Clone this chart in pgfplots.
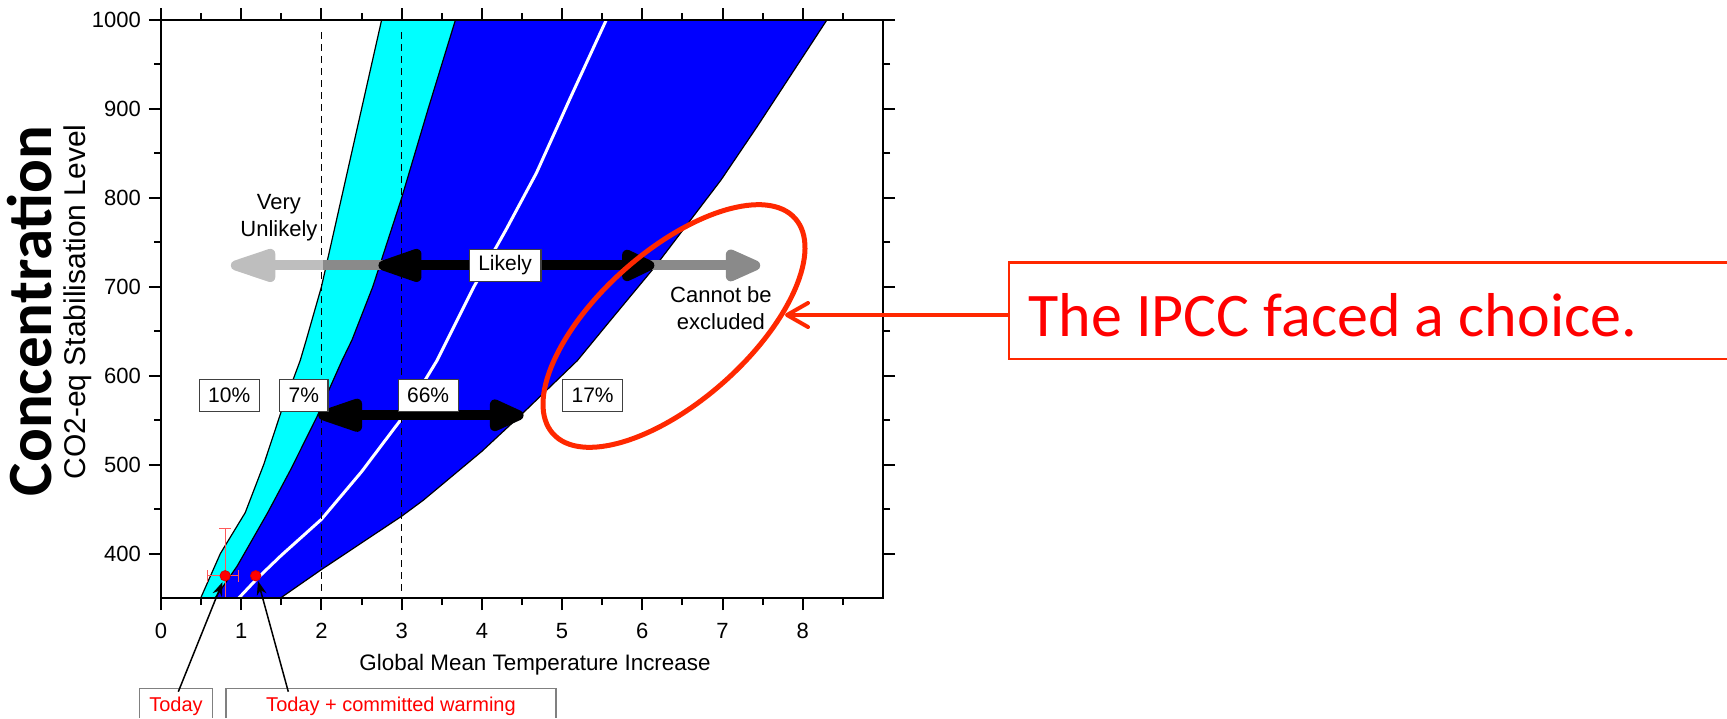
\documentclass[border=0pt]{standalone}
\usepackage{fontspec}
\setmainfont{Liberation Sans}
\newfontfamily\carlito{Carlito}
\usepackage{pgfplots}
\usepackage{pgfplotstable}
\pgfplotsset{compat=1.18}
\usetikzlibrary{arrows.meta}
\definecolor{ipccred}{RGB}{255,40,0}
\definecolor{lgrey}{RGB}{190,190,190}
\definecolor{mgrey}{RGB}{138,138,138}
\definecolor{errred}{RGB}{255,90,90}
\definecolor{pcyan}{RGB}{0,255,255}
\definecolor{pblue}{RGB}{0,0,255}
\definecolor{pred}{RGB}{255,0,0}

% lower edge of cyan band (10% line)
\pgfplotstableread{
x y
0.495 350
0.74 400
1.05 446
1.28 500
1.50 560
1.735 617
1.81 640
2.0 700
2.25 800
2.5 900
2.75 1000
}\edgeA
% cyan / blue boundary
\pgfplotstableread{
x y
0.674 350
0.95 386
1.33 446
1.62 495
1.95 555
2.256 617
2.38 640
2.64 700
3.0 800
3.33 900
3.67 1000
}\edgeB
% median (white)
\pgfplotstableread{
x y
0.97 350
1.2 372
1.5 398
2.0 438.5
2.5 492
3.0 551.8
3.44 617
3.9 700
4.3 764
4.68 828
5.1 912
5.55 1000
}\median
% right edge of blue band
\pgfplotstableread{
x y
1.49 350
2.0 382
3.0 442
3.27 460
4.0 515
4.5 557
5.19 617
5.6 662
6.17 724
6.98 820
7.43 880
8.30 1000
}\edgeD
% cyan band outline (edge A up, edge B down)
\pgfplotstableread{
x y
0.495 350
0.74 400
1.05 446
1.28 500
1.50 560
1.735 617
1.81 640
2.0 700
2.25 800
2.5 900
2.75 1000
3.67 1000
3.33 900
3.0 800
2.64 700
2.38 640
2.256 617
1.95 555
1.62 495
1.33 446
0.95 386
0.674 350
}\cyanband
% blue band outline (edge B up, edge D down)
\pgfplotstableread{
x y
0.674 350
0.95 386
1.33 446
1.62 495
1.95 555
2.256 617
2.38 640
2.64 700
3.0 800
3.33 900
3.67 1000
8.30 1000
7.43 880
6.98 820
6.17 724
5.6 662
5.19 617
4.5 557
4.0 515
3.27 460
3.0 442
2.0 382
1.49 350
}\blueband

\begin{document}
\begin{tikzpicture}
\tikzset{pctbox/.style={draw=black!75, fill=white, line width=0.6pt,
  font=\fontsize{10.5}{12}\selectfont, inner xsep=4.5pt, inner ysep=0pt,
  minimum height=16pt}}
\begin{axis}[
  at={(80.5pt,-299pt)}, anchor=south west,
  width=361pt, height=289pt, scale only axis,
  xmin=0, xmax=9, ymin=350, ymax=1000,
  xtick={0,...,8}, minor xtick={0.5,1.5,...,8.5},
  ytick={400,500,...,1000}, minor ytick={450,550,...,950},
  tick align=outside,
  major tick length=6pt, minor tick length=3.5pt,
  every tick/.append style={black, line width=1pt},
  axis line style={line width=1pt},
  tick label style={font=\fontsize{11}{13}\selectfont},
  xticklabel style={yshift=-3pt},
  yticklabel style={xshift=-0.5pt},
  /pgf/number format/assume math mode=true,
  /pgf/number format/1000 sep={},
  axis on top,
]
\addplot[fill=pcyan, draw=none] table {\cyanband};
\addplot[fill=pblue, draw=none] table {\blueband};
\addplot[black, line width=0.6pt] table {\edgeA};
\addplot[black, line width=0.6pt] table {\edgeB};
\addplot[black, line width=0.6pt] table {\edgeD};
\addplot[white, line width=1.5pt] table {\median};

\draw[black, line width=0.7pt, dash pattern=on 3.5pt off 2.5pt] (axis cs:2,358) -- (axis cs:2,990);
\draw[black, line width=0.7pt, dash pattern=on 3.5pt off 2.5pt] (axis cs:3,358) -- (axis cs:3,990);

% upper arrow row (Very unlikely / Likely / Cannot be excluded)
\draw[lgrey, line width=5pt, -{Triangle[length=28.5pt,width=17pt,round]}] (axis cs:2.03,724) -- (axis cs:0.87,724);
\draw[mgrey, line width=5pt] (axis cs:2.02,724) -- (axis cs:2.9,724);
\draw[mgrey, line width=5pt, -{Triangle[length=21.5pt,width=17pt,round]}] (axis cs:6.0,724) -- (axis cs:7.47,724);
\draw[black, line width=5pt, {Triangle[length=27.5pt,width=17pt,round]}-{Triangle[length=20pt,width=17pt,round]}] (axis cs:2.71,724) -- (axis cs:6.15,724);
% lower arrow (66%)
\draw[black, line width=5pt, {Triangle[length=28pt,width=17pt,round]}-{Triangle[length=21pt,width=17pt,round]}] (axis cs:1.96,555.5) -- (axis cs:4.52,555.5);

\node[pctbox] at (axis cs:4.29,724) {Likely};
\node[pctbox] at (axis cs:0.85,578) {10\%};
\node[pctbox] at (axis cs:1.78,578) {7\%};
\node[pctbox] at (axis cs:3.33,578) {66\%};
\node[pctbox] at (axis cs:5.38,578) {17\%};
\node[align=center, font=\fontsize{11}{13.3}\selectfont] at (axis cs:1.47,778) {Very\\Unlikely};
\node[align=center, font=\fontsize{11}{13.3}\selectfont] at (axis cs:6.98,676) {Cannot be\\excluded};

% today and today + committed warming
\addplot[only marks, mark=*, mark size=2.6pt, color=pred, mark options={fill=pred, draw=pred!85!black},
  error bars/.cd, x dir=both, x explicit, y dir=both, y explicit,
  error bar style={color=errred, line width=0.6pt},
  error mark options={rotate=90, mark size=3pt, color=errred, line width=0.6pt}]
  coordinates {(0.8,375) += (0.17,53) -= (0.22,30)};
\addplot[only marks, mark=*, mark size=2.6pt, color=pred, mark options={fill=pred, draw=pred!85!black}]
  coordinates {(1.18,375)};
\end{axis}

\begin{scope}[x=0.5pt, y=-0.5pt]
 \node[rotate=90, anchor=base, font=\carlito\bfseries\fontsize{31.5}{36}\selectfont] at (51,311) {Concentration};
 \node[rotate=90, anchor=base, font=\fontsize{15}{18}\selectfont] at (85,302) {CO2-eq Stabilisation Level};
 \node[anchor=base, font=\fontsize{11.2}{13}\selectfont] at (535,670) {Global Mean Temperature Increase};
 \draw[black!50, line width=0.7pt] (139.7,718) -- (139.7,688.3) -- (212.7,688.3) -- (212.7,718);
 \draw[black!50, line width=0.7pt] (226,718) -- (226,688.3) -- (556,688.3) -- (556,718);
 \node[anchor=base, text=pred, font=\fontsize{10}{12}\selectfont] at (176,711) {Today};
 \node[anchor=base, text=pred, font=\fontsize{10}{12}\selectfont] at (391,711) {Today + committed warming};
 \draw[black, line width=0.75pt, -{Stealth[length=7pt,width=5pt]}] (178.3,691.7) -- (222.5,582);
 \draw[black, line width=0.75pt, -{Stealth[length=7pt,width=5pt]}] (288.3,691.7) -- (258,581);
 \draw[ipccred, line width=1.2pt] (1727,262.5) -- (1009,262.5) -- (1009,359) -- (1727,359);
 \node[anchor=base west, inner sep=0pt, text=pred, font=\carlito\fontsize{31}{37}\selectfont] at (1028,336) {The IPCC faced a choice.};
 \draw[ipccred, line width=2pt] (1009,315) -- (790,315);
 \draw[ipccred, line width=2pt, line cap=round, line join=round] (808,303) -- (787,315) -- (808,327);
\end{scope}
\draw[ipccred, line width=2.5pt, rotate around={41.6:(337pt,-163pt)}] (337pt,-163pt) ellipse [x radius=81pt, y radius=37.5pt];
\pgfresetboundingbox
\path[use as bounding box] (0,0) rectangle (863.5pt,-359pt);
\end{tikzpicture}
\end{document}
